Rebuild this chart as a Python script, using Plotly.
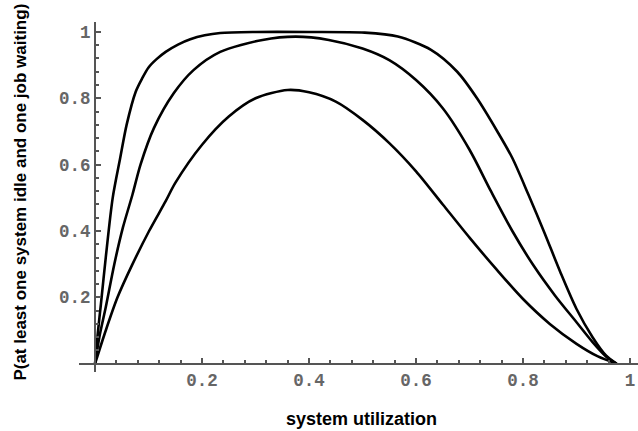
import plotly.graph_objects as go

# Curve A (top)
xa = [0, 0.005, 0.011, 0.02, 0.033, 0.047, 0.059, 0.076, 0.088, 0.100, 0.115, 0.132, 0.155, 0.178,
      0.205, 0.234, 0.30, 0.40, 0.504, 0.566, 0.628, 0.677, 0.714, 0.752, 0.78, 0.81, 0.84, 0.87,
      0.90, 0.93, 0.955, 0.975]
ya = [0, 0.09, 0.18, 0.32, 0.50, 0.62, 0.72, 0.82, 0.86, 0.893, 0.918, 0.94, 0.962, 0.978,
      0.99, 0.997, 1.0, 1.0, 0.998, 0.986, 0.946, 0.88, 0.80, 0.70, 0.62, 0.51, 0.395, 0.275,
      0.165, 0.08, 0.025, 0]

# Curve B (middle)
xb = [0, 0.008, 0.02, 0.036, 0.052, 0.070, 0.085, 0.110, 0.147, 0.184, 0.234, 0.313, 0.375,
      0.437, 0.50, 0.55, 0.60, 0.65, 0.70, 0.74, 0.78, 0.82, 0.86, 0.90, 0.93, 0.955, 0.975]
yb = [0, 0.08, 0.17, 0.30, 0.41, 0.51, 0.60, 0.71, 0.815, 0.885, 0.94, 0.976, 0.986,
      0.976, 0.95, 0.915, 0.855, 0.77, 0.645, 0.52, 0.40, 0.295, 0.205, 0.125, 0.065, 0.022, 0]

# Curve C (bottom)
xc = [0, 0.020, 0.042, 0.070, 0.101, 0.132, 0.15, 0.20, 0.25, 0.30, 0.36, 0.40, 0.45, 0.50,
      0.55, 0.60, 0.65, 0.70, 0.75, 0.80, 0.85, 0.90, 0.94, 0.975]
yc = [0, 0.10, 0.20, 0.30, 0.40, 0.49, 0.545, 0.66, 0.745, 0.80, 0.825, 0.818, 0.79, 0.735,
      0.665, 0.58, 0.48, 0.38, 0.285, 0.195, 0.12, 0.06, 0.022, 0]

tick_vals = [0.2, 0.4, 0.6, 0.8, 1.0]
tick_text = ["0.2", "0.4", "0.6", "0.8", "1"]

x_range = [-0.03, 1.0149]
y_range = [-0.025, 1.03]

fig = go.Figure()
for xs, ys in [(xa, ya), (xb, yb), (xc, yc)]:
    fig.add_trace(go.Scatter(x=xs, y=ys, mode="lines",
                             line=dict(color="black", width=2.6, shape="spline", smoothing=0.8),
                             showlegend=False, hoverinfo="skip"))

tick_font = dict(family="Liberation Mono, Courier New, monospace", size=17.5, color="#666666",
                 weight="bold")
minor = dict(dtick=0.04, tick0=0, ticks="inside", ticklen=3, tickwidth=1.5,
             tickcolor="#555555", showgrid=False)

fig.update_layout(
    width=638, height=431,
    margin=dict(l=79, r=0, t=22, b=59, autoexpand=False),
    paper_bgcolor="white", plot_bgcolor="white",
    xaxis=dict(range=x_range, showgrid=False, zeroline=False, automargin=False,
               anchor="free", position=(0 - y_range[0]) / (y_range[1] - y_range[0]),
               showline=True, linecolor="#555555", linewidth=2,
               ticks="inside", ticklen=5, tickwidth=1.5, tickcolor="#555555",
               ticklabeloverflow="allow",
               tickvals=tick_vals, ticktext=tick_text, tickfont=tick_font, minor=minor),
    yaxis=dict(range=y_range, showgrid=False, zeroline=False, automargin=False,
               anchor="free", position=(0 - x_range[0]) / (x_range[1] - x_range[0]),
               showline=True, linecolor="#555555", linewidth=2,
               ticks="inside", ticklen=5, tickwidth=1.5, tickcolor="#555555",
               ticklabeloverflow="allow",
               tickvals=tick_vals, ticktext=tick_text, tickfont=tick_font, minor=minor),
    annotations=[
        dict(text="<b>system utilization</b>", xref="paper", yref="paper",
             x=0.505, y=-0.135, xanchor="center", yanchor="middle", showarrow=False,
             font=dict(family="Liberation Sans, Arial, sans-serif", size=18, color="black")),
        dict(text="<b>P(at least one system idle and one job waiting)</b>", xref="paper", yref="paper",
             x=-0.104, y=0.515, xanchor="center", yanchor="middle", showarrow=False,
             textangle=-90,
             font=dict(family="Liberation Sans, Arial, sans-serif", size=17, color="black")),
    ],
)

fig.write_html("out.html", config={"displayModeBar": False},
               post_script="document.body.style.margin='0';document.body.style.overflow='hidden';")
